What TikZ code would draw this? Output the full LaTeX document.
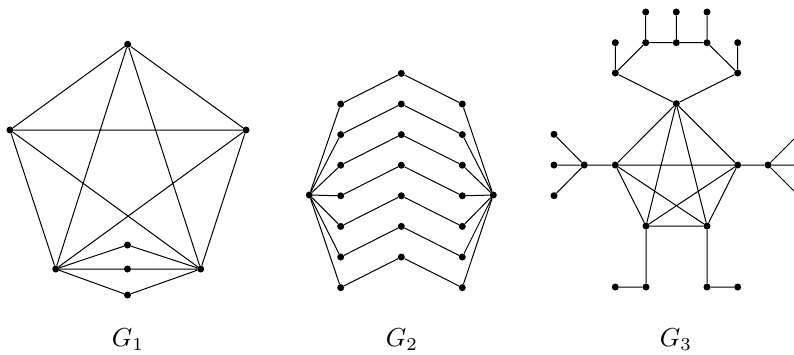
\documentclass[tikz,border=0pt]{standalone}
\usepackage{graphicx}
\begin{document}
\begin{tikzpicture}[x=1pt,y=-1pt,
  v/.style={circle,fill=black,inner sep=0pt,minimum size=7pt},
  e/.style={line width=1pt,black},
  lab/.style={anchor=base,inner sep=0pt}]
\useasboundingbox (0,0) rectangle (794,354);
\clip (0,0) rectangle (794,354);
% ---------- G1 ----------
\node[v] (a) at (127.7,44.3) {};
\node[v] (b) at (10,130) {};
\node[v] (c) at (246,130) {};
\node[v] (d) at (55.7,269) {};
\node[v] (f) at (200.7,269) {};
\node[v] (m1) at (127.5,245) {};
\node[v] (m2) at (127.5,269) {};
\node[v] (m3) at (127.5,295) {};
\draw[e] (a)--(b) (a)--(c) (a)--(d) (a)--(f) (b)--(c) (b)--(d) (b)--(f) (c)--(d) (c)--(f)
  (d)--(m1)--(f) (d)--(m2)--(f) (d)--(m3)--(f);
% ---------- G2 ----------
\node[v] (hl) at (309.3,195) {};
\node[v] (hr) at (493.3,195) {};
\foreach \i in {0,...,6}{
  \node[v] (l\i) at (340.7,104+30.6*\i) {};
  \node[v] (mm\i) at (401.3,73.4+30.6*\i) {};
  \node[v] (r\i) at (462.3,104+30.6*\i) {};
  \draw[e] (hl)--(l\i)--(mm\i)--(r\i)--(hr);
}
% ---------- G3 ----------
\node[v] (h) at (676.3,103.7) {};
\node[v] (t1) at (615.3,73) {};
\node[v] (t2) at (737.7,73) {};
\node[v] (s1) at (615.3,42.7) {};
\node[v] (s2) at (645.7,42.7) {};
\node[v] (s3) at (676.3,42.7) {};
\node[v] (s4) at (707,42.7) {};
\node[v] (s5) at (737.7,42.7) {};
\node[v] (u1) at (645.7,12) {};
\node[v] (u2) at (676.3,12) {};
\node[v] (u3) at (707,12) {};
\node[v] (pl) at (615.3,165) {};
\node[v] (pr) at (737.7,165) {};
\node[v] (bl) at (646,226) {};
\node[v] (br) at (707,226) {};
\node[v] (lm) at (584.3,165) {};
\node[v] (ll1) at (554,134.3) {};
\node[v] (ll2) at (554,165) {};
\node[v] (ll3) at (554,195.7) {};
\node[v] (rm) at (768,165) {};
\node[v] (rl1) at (798.7,134.3) {};
\node[v] (rl2) at (798.7,165) {};
\node[v] (rl3) at (798.7,195.7) {};
\node[v] (bb1) at (646,287) {};
\node[v] (bb2) at (615.3,287) {};
\node[v] (bb3) at (707,287) {};
\node[v] (bb4) at (737.7,287) {};
\draw[e] (h)--(t1) (h)--(t2) (t1)--(s1) (t1)--(s2) (s2)--(s3) (s3)--(s4) (s4)--(t2) (t2)--(s5)
  (s2)--(u1) (s3)--(u2) (s4)--(u3)
  (h)--(pl) (h)--(pr) (h)--(bl) (h)--(br) (pl)--(pr) (pl)--(bl) (pl)--(br) (pr)--(bl) (pr)--(br) (bl)--(br)
  (pl)--(lm) (lm)--(ll1) (lm)--(ll2) (lm)--(ll3)
  (pr)--(rm) (rm)--(rl1) (rm)--(rl2) (rm)--(rl3)
  (bl)--(bb1)--(bb2) (br)--(bb3)--(bb4);
% ---------- labels ----------
\node[lab] (g1) at (128,346.7) {\scalebox{2.6}{$G_1$}};
\node[lab] (g2) at (402,346.7) {\scalebox{2.6}{$G_2$}};
\node[lab] (g3) at (676,346.7) {\scalebox{2.6}{$G_3$}};
\end{tikzpicture}
\end{document}
